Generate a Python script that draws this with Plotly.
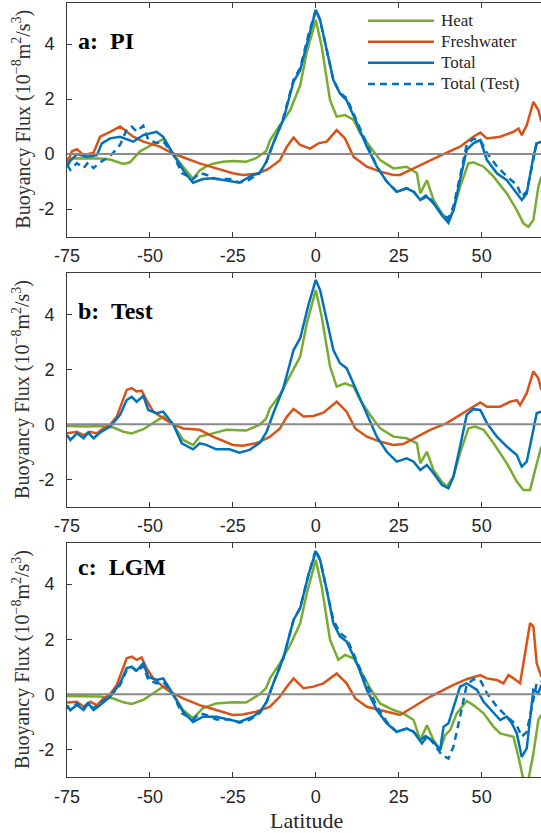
import plotly.graph_objects as go

# ---------------- data (latitude, buoyancy flux in 1e-8 m^2/s^3) ----------------
pi_heat_lat = [-75, -73, -69, -65, -62, -58, -56, -53, -50, -48, -46, -44.5, -43, -40, -37, -35, -33, -31, -28, -25, -21, -18, -16, -15,
               -13.8, -12, -10.8, -7.7, -4.7, -2.7, -1, 0, 1.8, 4.3, 6.3, 8.8, 11.4, 13.4, 16.4, 19.4, 23.4, 27.4, 30.5, 31.5,
               33.5, 35.5, 38, 40, 41.5, 43.5, 46, 47.5, 50.6, 53.6, 57.6, 60.6, 62.6, 64.1, 65.6, 67.1, 68]
pi_heat = [-0.16, -0.15, -0.15, -0.16, -0.2, -0.36, -0.3, 0.1, 0.3, 0.4, 0.55, 0.3, 0.0, -0.46, -0.9, -0.6, -0.45, -0.35, -0.28, -0.25,
           -0.28, -0.15, 0.0, 0.1, 0.5, 0.85, 1.05, 1.6, 2.5, 3.7, 4.5, 4.87, 3.9, 1.96, 1.36, 1.42, 1.24, 0.75, 0.27, -0.22, -0.52,
           -0.46, -0.7, -1.43, -0.95, -1.67, -2.16, -2.4, -2.04, -1.19, -0.34, -0.3, -0.46, -0.82, -1.43, -2.04, -2.52, -2.64, -2.4,
           -1.19, -0.82]

pi_fresh_lat = [-75, -73.5, -72, -70, -67, -65, -62, -59, -55, -52, -47, -43, -39, -35, -30, -25, -22, -18, -15, -13.8, -10.8, -8.7,
                -6.7, -4.7, -1.7, 0.8, 3.3, 6.3, 8.8, 11.4, 15.4, 19.4, 23.4, 25.4, 29.5, 33.5, 38.5, 43.5, 47.5, 49.6, 51.6, 55.6,
                59.6, 61.1, 62.1, 63.6, 65.6, 67.1, 68]
pi_fresh = [-0.34, 0.1, 0.18, -0.04, 0.05, 0.63, 0.81, 1.0, 0.63, 0.45, 0.27, 0.02, -0.16, -0.34, -0.52, -0.7, -0.76, -0.72, -0.58,
            -0.5, -0.22, 0.27, 0.6, 0.33, 0.2, 0.39, 0.45, 0.87, 0.57, -0.1, -0.46, -0.64, -0.76, -0.76, -0.52, -0.28, 0.0, 0.27,
            0.63, 0.78, 0.57, 0.63, 0.81, 0.93, 0.69, 1.05, 1.9, 1.6, 1.18]

pi_total_lat = [-75, -74, -72, -69, -66, -64.5, -62, -59, -55, -52, -48, -46, -43, -40, -37, -34, -31, -27, -23, -19, -17, -15,
                -12.8, -9.8, -6.7, -4.7, -2.2, 0, 1.3, 3.3, 5.3, 7.3, 9.3, 12.4, 15.4, 18.4, 21.4, 24.4, 27.4, 29.5, 31.5, 33.5,
                35.5, 38, 40, 41.5, 43.5, 45.5, 47.5, 49.6, 51.6, 54.6, 57.6, 60.6, 62.1, 63.6, 65.6, 66.6, 68]
pi_total = [-0.46, -0.25, 0.0, -0.1, -0.04, 0.39, 0.57, 0.63, 0.45, 0.69, 0.81, 0.63, 0.0, -0.58, -1.04, -0.91, -0.88, -0.95, -1.04,
            -0.76, -0.7, -0.3, 0.39, 1.24, 2.63, 3.05, 4.27, 5.24, 4.87, 3.78, 2.69, 2.2, 1.96, 1.12, 0.27, -0.46, -1.0, -1.37,
            -1.25, -1.37, -1.67, -1.55, -1.79, -2.22, -2.5, -2.04, -0.95, 0.15, 0.39, 0.51, -0.22, -0.7, -0.95, -1.43, -1.67,
            -1.43, -0.1, 0.39, 0.45]

test_heat_lat = [-75, -69, -65, -61, -58, -55.5, -52, -49, -46, -43, -40, -37, -35, -31, -27, -21, -17, -15, -13.8, -10.8, -7.7,
                 -4.7, -2.7, 0, 1.8, 4.3, 6.3, 8.8, 11.4, 13.4, 16.4, 19.4, 23.4, 27.4, 30.5, 31.5, 33.5, 35.5, 38, 39.5, 41.5,
                 43.5, 46, 48, 50.6, 53.6, 57.6, 60.6, 62.6, 64.6, 66.1, 67.1, 68]
test_heat = [-0.06, -0.08, -0.06, -0.12, -0.27, -0.33, -0.18, 0.04, 0.28, 0.0, -0.57, -0.75, -0.45, -0.33, -0.2, -0.23, -0.02,
             0.2, 0.58, 1.07, 1.79, 2.46, 3.67, 4.88, 3.9, 2.1, 1.37, 1.49, 1.37, 0.88, 0.34, -0.15, -0.45, -0.51, -0.69, -1.42,
             -1.0, -1.67, -2.08, -2.27, -1.9, -1.05, -0.15, -0.08, -0.2, -0.69, -1.42, -2.08, -2.39, -2.39, -1.67, -1.18, -0.81]

test_fresh_lat = [-75, -72, -70, -68, -66, -64, -62, -60, -57, -55.5, -54, -52.5, -51, -49, -46, -43, -40, -35, -31, -25, -22,
                  -18, -16.8, -13.8, -10.8, -8.7, -6.7, -3.7, -0.7, 2.3, 6.3, 9.3, 11.9, 15.4, 19.4, 23.4, 26.4, 30.5, 34.5,
                  39.5, 43.5, 47.5, 49.6, 51.6, 55.6, 58.6, 60.6, 61.6, 63.6, 65.6, 67.1, 68]
test_fresh = [-0.33, -0.27, -0.39, -0.27, -0.33, -0.15, -0.02, 0.28, 1.25, 1.31, 1.19, 1.22, 0.88, 0.46, 0.22, 0.0, -0.15, -0.2,
              -0.45, -0.75, -0.78, -0.69, -0.63, -0.45, -0.15, 0.28, 0.56, 0.28, 0.3, 0.42, 0.82, 0.46, -0.15, -0.45, -0.63,
              -0.75, -0.72, -0.45, -0.2, 0.04, 0.34, 0.64, 0.79, 0.64, 0.64, 0.82, 0.88, 0.7, 1.13, 1.92, 1.67, 1.25]

test_total_lat = [-75, -74, -72, -70, -68.6, -67, -65, -62, -59, -57, -55.5, -54, -52, -50.5, -48, -46, -43, -40.4, -37, -35,
                  -33, -30, -26, -23, -20, -16.8, -14.8, -12.8, -9.8, -6.7, -4.7, -2.2, 0, 1.3, 3.3, 5.3, 7.3, 9.3, 12.4,
                  15.4, 18.4, 21.4, 24.4, 27.4, 29.5, 31.5, 33.5, 35.5, 38, 40, 41.5, 43.5, 45.5, 47.5, 49.6, 51.6, 54.6,
                  57.6, 60.6, 62.1, 63.6, 65.6, 66.6, 68]
test_total = [-0.39, -0.57, -0.33, -0.51, -0.3, -0.51, -0.3, -0.08, 0.34, 0.88, 1.0, 0.82, 1.03, 0.52, 0.4, 0.46, 0.0, -0.69,
              -0.91, -0.69, -0.75, -0.91, -0.91, -1.03, -0.93, -0.67, -0.27, 0.4, 1.31, 2.7, 3.13, 4.34, 5.25, 4.88, 3.79, 2.7,
              2.22, 2.04, 1.19, 0.34, -0.45, -1.0, -1.36, -1.24, -1.36, -1.66, -1.48, -1.78, -2.2, -2.33, -1.9, -0.81, 0.34,
              0.55, 0.52, 0.04, -0.45, -0.81, -1.12, -1.54, -1.36, -0.2, 0.4, 0.46]

lgm_heat_lat = [-75, -65, -61, -58, -55.5, -52, -49, -46, -43, -40, -37, -34, -30, -25, -21, -17, -15, -13.8, -10.8, -7.7, -4.7,
                -2.7, 0, 1.8, 4.3, 6.8, 8.8, 11.4, 13.4, 16.4, 19.4, 23.4, 26.4, 29.5, 31.5, 33.5, 35.5, 37.5, 39, 40.5, 42.5,
                45.5, 47.5, 50.6, 53.6, 55.6, 57.6, 59.6, 61.1, 62.6, 64.1, 65.6, 67.1, 68]
lgm_heat = [-0.06, -0.08, -0.15, -0.29, -0.35, -0.2, 0.04, 0.28, 0.0, -0.57, -0.87, -0.5, -0.33, -0.29, -0.3, 0.0, 0.22, 0.58,
            1.13, 1.79, 2.58, 3.67, 4.88, 3.9, 1.98, 1.25, 1.43, 1.31, 0.88, 0.22, -0.33, -0.57, -0.69, -0.93, -1.66, -1.12,
            -1.66, -2.02, -1.48, -1.3, -0.69, -0.24, -0.39, -0.69, -1.18, -1.42, -1.48, -1.54, -2.27, -3.1, -3.1, -2.15, -0.93,
            -0.75]

lgm_fresh_lat = [-75, -72, -70, -68, -66, -64, -62, -60, -57, -55.5, -54, -52.5, -51, -49, -46, -43, -40, -35, -30, -25, -22,
                 -18, -13.8, -10.8, -8.7, -6.7, -3.7, -0.7, 2.3, 6.3, 9.3, 11.9, 15.4, 19.4, 23.4, 25.4, 29.5, 33.5, 37.5,
                 41.5, 45.5, 49.6, 51.6, 54.6, 56.6, 58.1, 59.6, 61.6, 63.1, 64.6, 65.6, 66.6, 68]
lgm_fresh = [-0.3, -0.27, -0.45, -0.27, -0.39, -0.15, 0.0, 0.34, 1.31, 1.37, 1.25, 1.34, 0.95, 0.58, 0.28, 0.04, -0.15, -0.39,
             -0.57, -0.75, -0.73, -0.63, -0.45, -0.08, 0.28, 0.58, 0.22, 0.28, 0.4, 0.76, 0.4, -0.15, -0.45, -0.57, -0.69,
             -0.75, -0.45, -0.15, 0.1, 0.34, 0.55, 0.7, 0.58, 0.52, 0.4, 0.7, 0.58, 0.4, 1.49, 2.58, 2.46, 1.13, 0.64]

lgm_total_lat = [-75, -74, -72, -70, -68.6, -67, -65, -62, -59, -57, -55.5, -54, -52, -50.5, -48, -46, -43, -40, -37, -34, -30,
                 -26, -23, -19, -16.8, -14.8, -12.8, -9.8, -6.7, -4.7, -2.2, 0, 1.3, 3.3, 5.3, 7.3, 9.3, 12.4, 15.4, 18.4,
                 21.4, 24.4, 27.4, 29.5, 32, 33.5, 35.5, 37.5, 38.5, 40, 41.5, 43.5, 45.5, 48.6, 50.6, 53.6, 55.6, 57.6, 59.1,
                 60.6, 62.1, 63.6, 64.6, 65.6, 67.1, 68]
lgm_total = [-0.45, -0.57, -0.39, -0.57, -0.33, -0.57, -0.39, -0.08, 0.4, 0.95, 1.0, 0.86, 1.13, 0.64, 0.52, 0.58, 0.0, -0.63,
             -1.0, -0.81, -0.81, -0.93, -1.0, -0.81, -0.63, -0.27, 0.4, 1.31, 2.7, 3.13, 4.34, 5.19, 4.88, 3.79, 2.58, 2.1,
             1.92, 1.13, 0.16, -0.57, -1.05, -1.36, -1.24, -1.36, -1.78, -1.54, -1.72, -2.02, -1.18, -1.05, -0.45, 0.28, 0.4,
             0.16, -0.27, -0.69, -0.93, -0.81, -1.05, -1.42, -2.27, -1.96, -0.81, 0.16, 0.05, 0.34]

panel_titles = ["a:  PI", "b:  Test", "c:  LGM"]
legend_names = ["Heat", "Freshwater", "Total", "Total (Test)"]
x_ticks = [-75, -50, -25, 0, 25, 50]
y_ticks = [-2, 0, 2, 4]

# ---------------- styling ----------------
W, H = 541, 833
L_PX = 67
GREEN, ORANGE, BLUE = "#77AC30", "#D95319", "#0072BD"
AXC = "#3a3a3a"
SERIF = "Liberation Serif"
SANS = "Liberation Sans, Arial, sans-serif"
LW = 2.5
DASH = "7px,5px"

def fy(p):  # pixel row -> paper fraction
    return 1 - p / H

def fx(p):  # pixel column -> paper fraction
    return (p - L_PX) / (W - L_PX)

panel_px = [(2.75, 236.6), (273.0, 506.8), (542.8, 777.0)]
label_px = [41, 311, 567]

panels = [
    [(pi_heat_lat, pi_heat, GREEN, "solid"), (pi_fresh_lat, pi_fresh, ORANGE, "solid"),
     (pi_total_lat, pi_total, BLUE, "solid"), (test_total_lat, test_total, BLUE, DASH)],
    [(test_heat_lat, test_heat, GREEN, "solid"), (test_fresh_lat, test_fresh, ORANGE, "solid"),
     (test_total_lat, test_total, BLUE, "solid")],
    [(lgm_heat_lat, lgm_heat, GREEN, "solid"), (lgm_fresh_lat, lgm_fresh, ORANGE, "solid"),
     (lgm_total_lat, lgm_total, BLUE, "solid"), (test_total_lat, test_total, BLUE, DASH)],
]

fig = go.Figure()
layout = dict(width=W, height=H, margin=dict(l=L_PX, r=0, t=0, b=0),
              paper_bgcolor="white", plot_bgcolor="white", showlegend=False)
shapes, annotations = [], []

for i, series in enumerate(panels):
    n = "" if i == 0 else str(i + 1)
    for (xs, ys, col, dash) in series:
        fig.add_trace(go.Scatter(x=xs, y=ys, mode="lines", xaxis="x" + n, yaxis="y" + n,
                                 line=dict(color=col, width=LW, dash=dash), hoverinfo="skip"))
    top, bot = panel_px[i]
    layout["xaxis" + n] = dict(domain=[0, 1], anchor="y" + n, range=[-75, 67.9],
                               tickvals=x_ticks, ticktext=[str(v) for v in x_ticks],
                               ticks="inside", ticklen=5, tickcolor=AXC, tickwidth=1,
                               showline=True, linecolor=AXC, linewidth=1, mirror="ticks",
                               showgrid=False, zeroline=False, ticklabelstandoff=3,
                               tickfont=dict(family=SANS, size=18, color="#262626"))
    layout["yaxis" + n] = dict(domain=[fy(bot), fy(top)], anchor="x" + n, range=[-3, 5.5],
                               tickvals=y_ticks, ticktext=[str(v) for v in y_ticks],
                               ticks="inside", ticklen=5, tickcolor=AXC, tickwidth=1,
                               showline=True, linecolor=AXC, linewidth=1, mirror=False,
                               showgrid=False, zeroline=False, ticklabelstandoff=8,
                               tickfont=dict(family=SANS, size=18, color="#262626"))
    # zero reference line drawn above the curves
    shapes.append(dict(type="line", xref="x" + n + " domain", yref="y" + n, x0=0, x1=1, y0=0, y1=0,
                       line=dict(color="#8a8a8a", width=2), layer="above"))
    annotations.append(dict(text="<b>" + panel_titles[i] + "</b>", xref="paper", yref="paper",
                            x=fx(76), y=fy(label_px[i]), xanchor="left", yanchor="middle", showarrow=False,
                            font=dict(family=SERIF, size=24, color="black")))
    annotations.append(dict(text="Buoyancy Flux (10<sup>−8</sup>m<sup>2</sup>/s<sup>3</sup>)",
                            xref="paper", yref="paper", x=fx(22), y=fy((top + bot) / 2),
                            xanchor="center", yanchor="middle", textangle=-90, showarrow=False,
                            font=dict(family=SERIF, size=20, color="#303030")))

annotations.append(dict(text="Latitude", xref="paper", yref="paper", x=fx(306), y=fy(820),
                        xanchor="center", yanchor="middle", showarrow=False,
                        font=dict(family=SERIF, size=22, color="#262626")))

# legend (panel a, top right)
leg_rows = [20.7, 41.7, 62.7, 84.0]
leg_styles = [(GREEN, "solid"), (ORANGE, "solid"), (BLUE, "solid"), (BLUE, DASH)]
for name, yrow, (col, dash) in zip(legend_names, leg_rows, leg_styles):
    shapes.append(dict(type="line", xref="paper", yref="paper", x0=fx(368), x1=fx(434), y0=fy(yrow), y1=fy(yrow),
                       line=dict(color=col, width=LW, dash=dash), layer="above"))
    annotations.append(dict(text=name, xref="paper", yref="paper", x=fx(439), y=fy(yrow),
                            xanchor="left", yanchor="middle", showarrow=False,
                            font=dict(family=SERIF, size=17, color="#262626")))

layout["shapes"] = shapes
layout["annotations"] = annotations
fig.update_layout(**layout)
fig.write_html("out.html")
